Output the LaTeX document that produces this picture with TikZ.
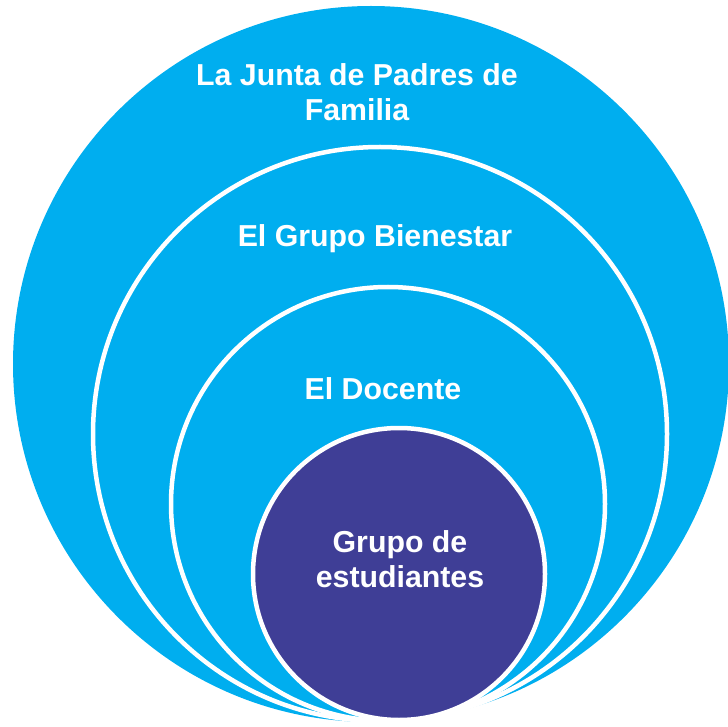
\documentclass[tikz,border=0pt]{standalone}
\usepackage{fontspec}
\setmainfont{Liberation Sans}
\usetikzlibrary{positioning}
\definecolor{ringblue}{HTML}{00AEEF}
\definecolor{corepurple}{HTML}{3F3E96}

\begin{document}
\begin{tikzpicture}[x=1pt, y=-1pt,
		disc/.style={circle, draw=white, line width=4.5pt, fill=ringblue, inner sep=0pt},
		ringtext/.style={text=white, font=\bfseries\fontsize{30.3}{35}\selectfont, align=center, inner sep=0pt}]
		\useasboundingbox (0,0) rectangle (728,727);

		\node[disc, draw=none, minimum size=716pt] (junta) at (371,364) {};
		\node[disc, minimum size=574pt] (bienestar) at (380,434) {};
		\node[disc, minimum size=434pt] (docente) at (388,504) {};
		\node[disc, fill=corepurple, minimum size=292pt] (grupo) at (399,574) {};

		\node[ringtext] (juntatext) at (357,92.5) {La Junta de Padres de\\Familia};
		\node[ringtext, anchor=base] (bienestartext) at (375,247) {El Grupo Bienestar};
		\node[ringtext, anchor=base] (docentetext) at (383,399) {El Docente};
		\node[ringtext] (grupotext) at (400,559.5) {Grupo de\\estudiantes};
\end{tikzpicture}
\end{document}
